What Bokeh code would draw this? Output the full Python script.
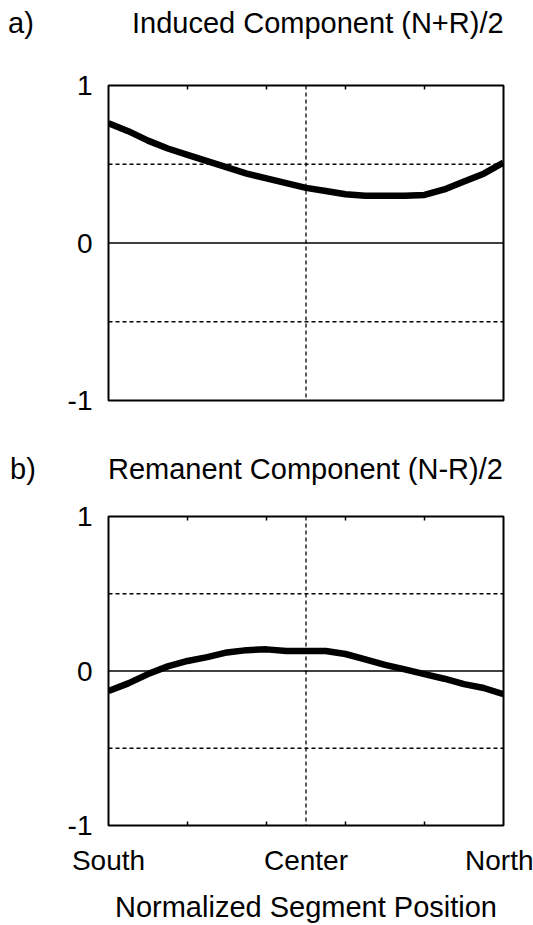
from bokeh.plotting import figure
from bokeh.layouts import column
from bokeh.models import Span, FixedTicker, Range1d, LinearAxis, Div
from bokeh.embed import file_html
from bokeh.resources import INLINE

# ---- data ----
positions = [0.00, 0.05, 0.10, 0.15, 0.20, 0.25, 0.30, 0.35, 0.40, 0.45, 0.50,
             0.55, 0.60, 0.65, 0.70, 0.75, 0.80, 0.85, 0.90, 0.95, 1.00]
induced = [0.76, 0.71, 0.65, 0.60, 0.56, 0.52, 0.48, 0.44, 0.41, 0.38, 0.35,
           0.33, 0.31, 0.30, 0.30, 0.30, 0.305, 0.34, 0.39, 0.44, 0.51]
remanent = [-0.13, -0.08, -0.02, 0.03, 0.065, 0.09, 0.12, 0.135, 0.14, 0.13, 0.13,
            0.13, 0.11, 0.075, 0.04, 0.01, -0.02, -0.05, -0.085, -0.11, -0.15]
y_ticks = [-1, 0, 1]
y_tick_text = ["-1", "0", "1"]
x_label_ticks = [0, 0.5, 1]
x_label_text = ["South", "Center", "North"]
x_minor_ticks = [0.2, 0.4, 0.6, 0.8]
panel_letters = ["a)", "b)"]
panel_titles = ["Induced Component (N+R)/2", "Remanent Component (N-R)/2"]
x_axis_title = "Normalized Segment Position"

FONT = "Liberation Sans"


def make_header(letter, title, height, top, letter_x, title_x):
    span = ("position:absolute;top:{t}px;left:{l}px;white-space:nowrap;"
            "line-height:normal;margin:0;padding:0;")
    html = (
        '<div style="position:relative;width:533px;height:{h}px;overflow:visible;'
        "font-family:'{f}';font-size:29px;color:black;background:white;\">"
        '<span style="{s1}">{a}</span><span style="{s2}">{b}</span></div>'
    ).format(h=height, f=FONT, s1=span.format(t=top, l=letter_x), a=letter,
             s2=span.format(t=top, l=title_x), b=title)
    return Div(text=html, width=533, height=height, margin=(0, 0, 0, 0))


def make_panel(values, height, borders, show_bottom_labels):
    bt, bb, bl, br = borders
    p = figure(width=533, height=height, output_backend="svg", toolbar_location=None,
               x_range=Range1d(0, 1), y_range=Range1d(-1, 1),
               min_border_top=bt, min_border_bottom=bb, min_border_left=bl,
               min_border_right=br, x_axis_location=None, y_axis_location=None)
    p.xgrid.visible = False
    p.ygrid.visible = False
    p.outline_line_color = "black"
    p.outline_line_width = 2
    p.background_fill_color = "white"
    p.border_fill_color = "white"

    ya = LinearAxis(ticker=FixedTicker(ticks=y_ticks))
    ya.axis_line_color = None
    ya.major_tick_line_color = None
    ya.minor_tick_line_color = None
    ya.major_label_overrides = {t: s for t, s in zip(y_ticks, y_tick_text)}
    ya.major_label_text_font = FONT
    ya.major_label_text_font_size = "28px"
    ya.major_label_text_color = "black"
    ya.major_label_standoff = 10
    p.add_layout(ya, "left")

    ta = LinearAxis(ticker=FixedTicker(ticks=[], minor_ticks=x_minor_ticks))
    ta.axis_line_color = None
    ta.major_tick_line_color = None
    ta.major_label_text_font_size = "0px"
    ta.major_label_standoff = 0
    ta.minor_tick_line_color = "black"
    ta.minor_tick_line_width = 1.5
    ta.minor_tick_in = 4
    ta.minor_tick_out = 0
    p.add_layout(ta, "above")

    if show_bottom_labels:
        ba = LinearAxis(ticker=FixedTicker(ticks=x_label_ticks, minor_ticks=x_minor_ticks))
        ba.axis_line_color = None
        ba.major_tick_line_color = None
        ba.minor_tick_line_color = "black"
        ba.minor_tick_line_width = 1.5
        ba.minor_tick_in = 4
        ba.minor_tick_out = 0
        ba.major_label_overrides = {t: s for t, s in zip(x_label_ticks, x_label_text)}
        ba.major_label_text_font = FONT
        ba.major_label_text_font_size = "28px"
        ba.major_label_text_color = "black"
        ba.major_label_standoff = 13
        ba.axis_label = x_axis_title
        ba.axis_label_text_font = FONT
        ba.axis_label_text_font_size = "29px"
        ba.axis_label_text_font_style = "normal"
        ba.axis_label_text_color = "black"
        ba.axis_label_standoff = 12
        p.add_layout(ba, "below")

    for loc in (0.5, -0.5):
        p.add_layout(Span(location=loc, dimension="width", line_color="black",
                          line_width=1.3, line_dash="4 3"))
    p.add_layout(Span(location=0, dimension="width", line_color="black", line_width=1.5))
    p.add_layout(Span(location=0.5, dimension="height", line_color="black",
                      line_width=1.3, line_dash="4 3"))

    p.line(positions, values, line_color="black", line_width=6.5, line_join="round")
    return p


h1 = make_header(panel_letters[0], panel_titles[0], 62, 7, 8, 132)
p1 = make_panel(induced, 378, (23, 40, 105, 30), False)
h2 = make_header(panel_letters[1], panel_titles[1], 60, 13, 10, 108)
p2 = make_panel(remanent, 425, (16, 93, 108, 28), True)

layout = column(h1, p1, h2, p2, spacing=0)
open("out.html", "w").write(file_html(layout, INLINE))
